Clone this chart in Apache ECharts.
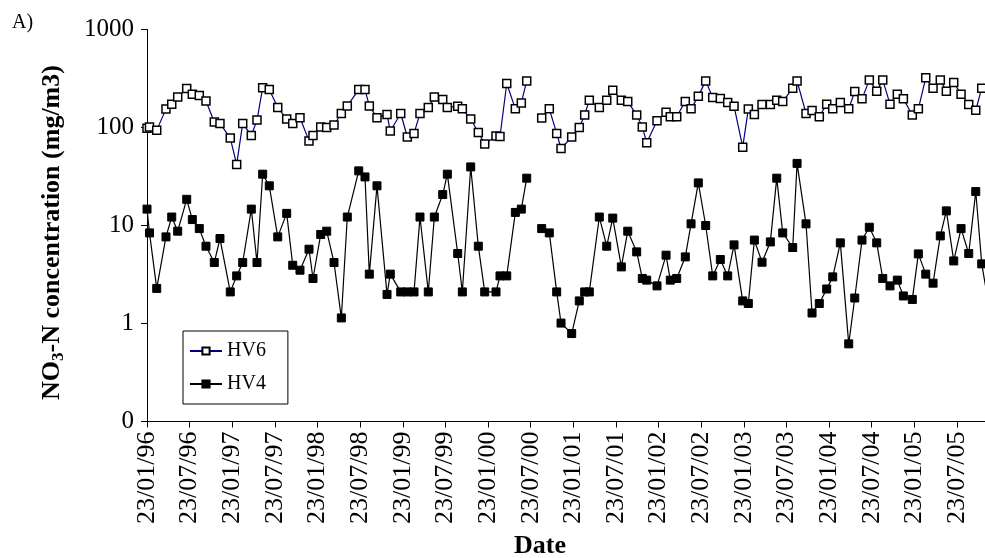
<!DOCTYPE html>
<html>
<head>
<meta charset="utf-8">
<script src="https://cdn.jsdelivr.net/npm/echarts@6/dist/echarts.min.js"></script>
<style>
  html, body { margin: 0; padding: 0; background: #fff; }
  #chart { width: 985px; height: 558px; }
</style>
</head>
<body>
<div id="chart"></div>
<script>
// Sampling times, in months elapsed since 23/01/96 (a missing sample breaks both lines)
const sampleMonths = [
  0.0, 0.35, 1.37, 2.67, 3.48, 4.32, 5.59, 6.38, 7.36, 8.30,
  9.47, 10.27, 11.72, 12.62, 13.47, 14.68, 15.48, 16.28, 17.21, 18.40,
  19.66, 20.51, 21.53, 22.80, 23.36, 24.45, 25.29, 26.32, 27.35, 28.19,
  29.80, 30.68, 31.29, 32.37, 33.78, 34.24, 35.71, 36.64, 37.58, 38.42,
  39.59, 40.44, 41.62, 42.27, 43.73, 44.38, 45.56, 46.63, 47.53, 49.12,
  49.68, 50.63, 51.84, 52.68, 53.44, 54.50, 55.55, 56.62, 57.66, 58.27,
  59.77, 60.84, 61.60, 62.25, 63.66, 64.70, 65.55, 66.76, 67.66, 68.92,
  69.71, 70.33, 71.78, 73.05, 73.65, 74.55, 75.76, 76.57, 77.59, 78.63,
  79.62, 80.69, 81.73, 82.62, 83.84, 84.63, 85.48, 86.56, 87.73, 88.63,
  89.47, 90.88, 91.49, 92.75, 93.60, 94.62, 95.66, 96.51, 97.58, 98.76,
  99.61, 100.63, 101.66, 102.70, 103.55, 104.57, 105.60, 106.45, 107.71, 108.56,
  109.60, 110.63, 111.65, 112.50, 113.54, 114.57, 115.65, 116.64, 117.48, 118.50
];

// NO3-N concentration at HV6 (mg/m3)
const hv6 = [
  98, 101, 94, 154, 173, 205, 250, 219, 212, 186,
  114, 110, 78, 42, 110, 83, 119, 254, 244, 160,
  122, 110, 126, 73, 83, 101, 100, 106, 139, 166,
  244, 244, 166, 126, 136, 92, 139, 80, 87, 139,
  160, 205, 193, 160, 165, 155, 122, 89, 68, 82,
  81, 281, 155, 178, 299, null, 125, 155, 87, 61,
  80, 100, 134, 190, 160, 190, 240, 190, 184, 134,
  101, 70, 117, 143, 129, 129, 184, 155, 209, 299,
  202, 198, 180, 165, 63, 154, 136, 172, 172, 190,
  184, 252, 299, 139, 149, 129, 173, 155, 180, 155,
  233, 196, 306, 235, 306, 173, 219, 196, 134, 155,
  321, 252, 306, 235, 288, 219, 172, 150, 252, 250
];

// NO3-N concentration at HV4 (mg/m3)
const hv4 = [
  14.7, 8.4, 2.28, 7.65, 12.2, 8.75, 18.5, 11.5, 9.3, 6.15,
  4.19, 7.36, 2.1, 3.06, 4.19, 14.7, 4.19, 33.4, 25.4, 7.65,
  13.3, 3.93, 3.5, 5.73, 2.88, 8.1, 8.75, 4.19, 1.14, 12.2,
  36.1, 31.3, 3.19, 25.4, 1.98, 3.19, 2.1, 2.1, 2.1, 12.2,
  2.1, 12.2, 20.7, 33.4, 5.18, 2.1, 39.6, 6.15, 2.1, 2.1,
  3.06, 3.06, 13.6, 14.7, 30.4, null, 9.3, 8.4, 2.1, 1.01,
  0.79, 1.70, 2.1, 2.1, 12.2, 6.15, 11.9, 3.78, 8.75, 5.38,
  2.88, 2.77, 2.42, 4.98, 2.77, 2.88, 4.78, 10.4, 27.2, 10.0,
  3.06, 4.5, 3.06, 6.34, 1.70, 1.6, 7.1, 4.22, 6.8, 30.4,
  8.4, 5.96, 43, 10.4, 1.28, 1.6, 2.25, 2.99, 6.65, 0.62,
  1.82, 7.1, 9.6, 6.65, 2.88, 2.42, 2.77, 1.91, 1.76, 5.13,
  3.19, 2.58, 7.83, 14.1, 4.35, 9.3, 5.18, 22.2, 4.06, 1.5
];

// Date axis tick labels, one every six months
const dateTicks = [
  '23/01/96', '23/07/96', '23/01/97', '23/07/97', '23/01/98', '23/07/98',
  '23/01/99', '23/07/99', '23/01/00', '23/07/00', '23/01/01', '23/07/01',
  '23/01/02', '23/07/02', '23/01/03', '23/07/03', '23/01/04', '23/07/04',
  '23/01/05', '23/07/05'
];

// Concentration axis tick labels (the lowest decade is printed as 0)
const concTicks = { 0.1: '0', 1: '1', 10: '10', 100: '100', 1000: '1000' };

const SERIF = 'Liberation Serif';
const TICK_STEP = 6;
const tickMonths = dateTicks.map((_, i) => i * TICK_STEP);

const toPoints = (values) =>
  values.map((v, i) => [sampleMonths[i], v == null ? '-' : v]);

const chart = echarts.init(document.getElementById('chart'), null, { renderer: 'canvas' });

chart.setOption({
  animation: false,
  backgroundColor: '#fff',
  textStyle: { fontFamily: SERIF, color: '#000' },
  grid: {
    left: 147, top: 29.5, right: 0, bottom: 136.5,
    containLabel: false, outerBoundsMode: 'none'
  },
  graphic: [{
    type: 'text', left: 12, top: 13,
    style: { text: 'A)', font: '20px "Liberation Serif"', fill: '#000' }
  }],
  legend: {
    orient: 'vertical',
    left: 183, top: 331,
    data: ['HV6', 'HV4'],
    backgroundColor: '#fff',
    borderColor: '#000', borderWidth: 1, borderRadius: 0,
    padding: [10, 22, 10, 6],
    itemGap: 13, itemWidth: 32, itemHeight: 9,
    textStyle: { fontFamily: SERIF, fontSize: 20, color: '#000' }
  },
  xAxis: {
    type: 'value',
    min: 0, max: 117.94, interval: TICK_STEP,
    splitLine: { show: false },
    axisLine: { lineStyle: { color: '#000', width: 1 } },
    axisTick: { length: 6, lineStyle: { color: '#000' }, customValues: tickMonths },
    axisLabel: {
      customValues: tickMonths,
      rotate: 90, margin: 10,
      fontFamily: SERIF, fontSize: 26, color: '#000',
      formatter: (v) => dateTicks[Math.round(v / TICK_STEP)] || ''
    },
    name: 'Date', nameLocation: 'middle', nameGap: 112,
    nameTextStyle: { fontFamily: SERIF, fontSize: 26, fontWeight: 'bold', color: '#000', padding: [0, 52, 0, 0] }
  },
  yAxis: {
    type: 'log', logBase: 10,
    min: 0.1, max: 1000,
    splitLine: { show: false },
    minorTick: { show: false },
    axisLine: { show: true, lineStyle: { color: '#000', width: 1 } },
    axisTick: { show: true, length: 6, lineStyle: { color: '#000' } },
    axisLabel: {
      margin: 13, fontFamily: SERIF, fontSize: 25, color: '#000',
      formatter: (v) => concTicks[+v.toPrecision(3)] ?? String(v)
    },
    name: '{b|NO}{s|3}{b|-N concentration (mg/m3)}',
    nameLocation: 'middle', nameGap: 80,
    nameTextStyle: {
      padding: [0, 14, 0, 0],
      rich: {
        b: { fontFamily: SERIF, fontSize: 26, fontWeight: 'bold', color: '#000', lineHeight: 30 },
        s: { fontFamily: SERIF, fontSize: 17, fontWeight: 'bold', color: '#000', lineHeight: 17, verticalAlign: 'bottom' }
      }
    }
  },
  series: [
    {
      name: 'HV6', type: 'line',
      data: toPoints(hv6),
      connectNulls: false, clip: true,
      showAllSymbol: true,
      symbol: 'rect', symbolSize: 8,
      lineStyle: { color: '#000080', width: 1.2 },
      itemStyle: { color: '#fff', borderColor: '#000', borderWidth: 1.5 },
      emphasis: { disabled: true }
    },
    {
      name: 'HV4', type: 'line',
      data: toPoints(hv4),
      connectNulls: false, clip: true,
      showAllSymbol: true,
      symbol: 'rect', symbolSize: 8,
      lineStyle: { color: '#000', width: 1.2 },
      itemStyle: { color: '#000', borderColor: '#000', borderWidth: 1 },
      emphasis: { disabled: true }
    }
  ]
});
</script>
</body>
</html>
